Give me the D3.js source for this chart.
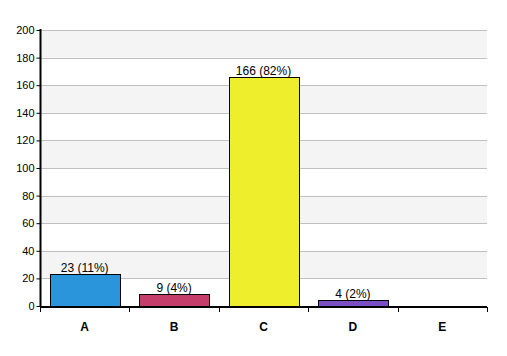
<!DOCTYPE html>
<html><head><meta charset="utf-8">
<script src="https://cdn.jsdelivr.net/npm/d3@7/dist/d3.min.js"></script>
<style>body{margin:0;background:#fff}svg{display:block}</style>
</head><body><svg id="c" width="507" height="356"></svg>
<script>
const categories = ["A","B","C","D","E"];
const values = [23, 9, 166, 4, 0];
const labels = ["23 (11%)","9 (4%)","166 (82%)","4 (2%)",""];
const colors = ["#2b95dc","#c53d6a","#eeee2c","#7a4fc1","#888888"];
const yTicks = [0,20,40,60,80,100,120,140,160,180,200];

const svg = d3.select("#c");
const m = {left:40, right:20, top:30, bottom:50};
const W = 507, H = 356;
const x = d3.scaleBand().domain(categories).range([m.left, W - m.right]).paddingInner(0.22).paddingOuter(0.11);
const xb = d3.scaleBand().domain(categories).range([m.left, W - m.right]);
const y = d3.scaleLinear().domain([0,200]).range([H - m.bottom, m.top]);

// alternating bands
const bandPairs = d3.range(0, yTicks.length - 1).filter(i => i % 2 === 1);
svg.selectAll("rect.band").data(bandPairs).enter().append("rect")
  .attr("x", m.left).attr("width", W - m.right - m.left)
  .attr("y", i => y(yTicks[i+1])).attr("height", i => y(yTicks[i]) - y(yTicks[i+1]))
  .attr("fill", "#f4f4f4");

// gridlines
svg.selectAll("line.grid").data(yTicks.slice(1)).enter().append("line")
  .attr("x1", m.left).attr("x2", W - m.right)
  .attr("y1", d => Math.round(y(d)) + 0.5).attr("y2", d => Math.round(y(d)) + 0.5)
  .attr("stroke", "#c0c0c0");

// bars
svg.selectAll("rect.bar").data(categories).enter().append("rect")
  .attr("x", d => Math.round(x(d)) + 0.5)
  .attr("width", Math.round(x.bandwidth()))
  .attr("y", (d,i) => Math.round(y(values[i])) + 0.5)
  .attr("height", (d,i) => Math.max(0, Math.round(y(0)) - Math.round(y(values[i]))))
  .attr("fill", (d,i) => colors[i]).attr("stroke", "#000").attr("stroke-width", 1)
  .style("display", (d,i) => values[i] > 0 ? null : "none");

// value labels
svg.selectAll("text.val").data(categories).enter().append("text")
  .attr("x", d => x(d) + x.bandwidth()/2)
  .attr("y", (d,i) => y(values[i]) - 2)
  .attr("text-anchor", "middle")
  .attr("font-family", "Liberation Sans, Arial, sans-serif").attr("font-size", 12)
  .attr("fill", "#000")
  .text((d,i) => labels[i]);

// y axis
const yAxis = d3.axisLeft(y).tickValues(yTicks).tickSize(4).tickPadding(2);
const gy = svg.append("g").attr("transform", `translate(${m.left + 0.5},0)`).call(yAxis);
gy.select(".domain").attr("stroke", "#000").attr("stroke-width", 2).attr("d", `M0,${y(200)-1}V${y(0)}`);
gy.selectAll(".tick line").attr("stroke", "#000");
gy.selectAll("text").attr("font-family", "Liberation Sans, Arial, sans-serif").attr("font-size", 11).attr("fill", "#000");

// x axis
const gx = svg.append("g").attr("transform", `translate(0,${Math.round(y(0)) + 1})`);
gx.append("line").attr("x1", m.left).attr("x2", W - m.right).attr("y1", 0).attr("y2", 0)
  .attr("stroke", "#000").attr("stroke-width", 2);
const bounds = categories.map(c => xb(c)).concat([xb(categories[categories.length-1]) + xb.bandwidth()]);
gx.selectAll("line.t").data(bounds).enter().append("line")
  .attr("x1", d => Math.round(d) + 0.5).attr("x2", d => Math.round(d) + 0.5)
  .attr("y1", 0).attr("y2", 5).attr("stroke", "#000");
gx.selectAll("text").data(categories).enter().append("text")
  .attr("x", d => xb(d) + xb.bandwidth()/2).attr("y", 24)
  .attr("text-anchor", "middle")
  .attr("font-family", "Liberation Sans, Arial, sans-serif").attr("font-size", 12).attr("font-weight", "bold")
  .text(d => d);
</script></body></html>
